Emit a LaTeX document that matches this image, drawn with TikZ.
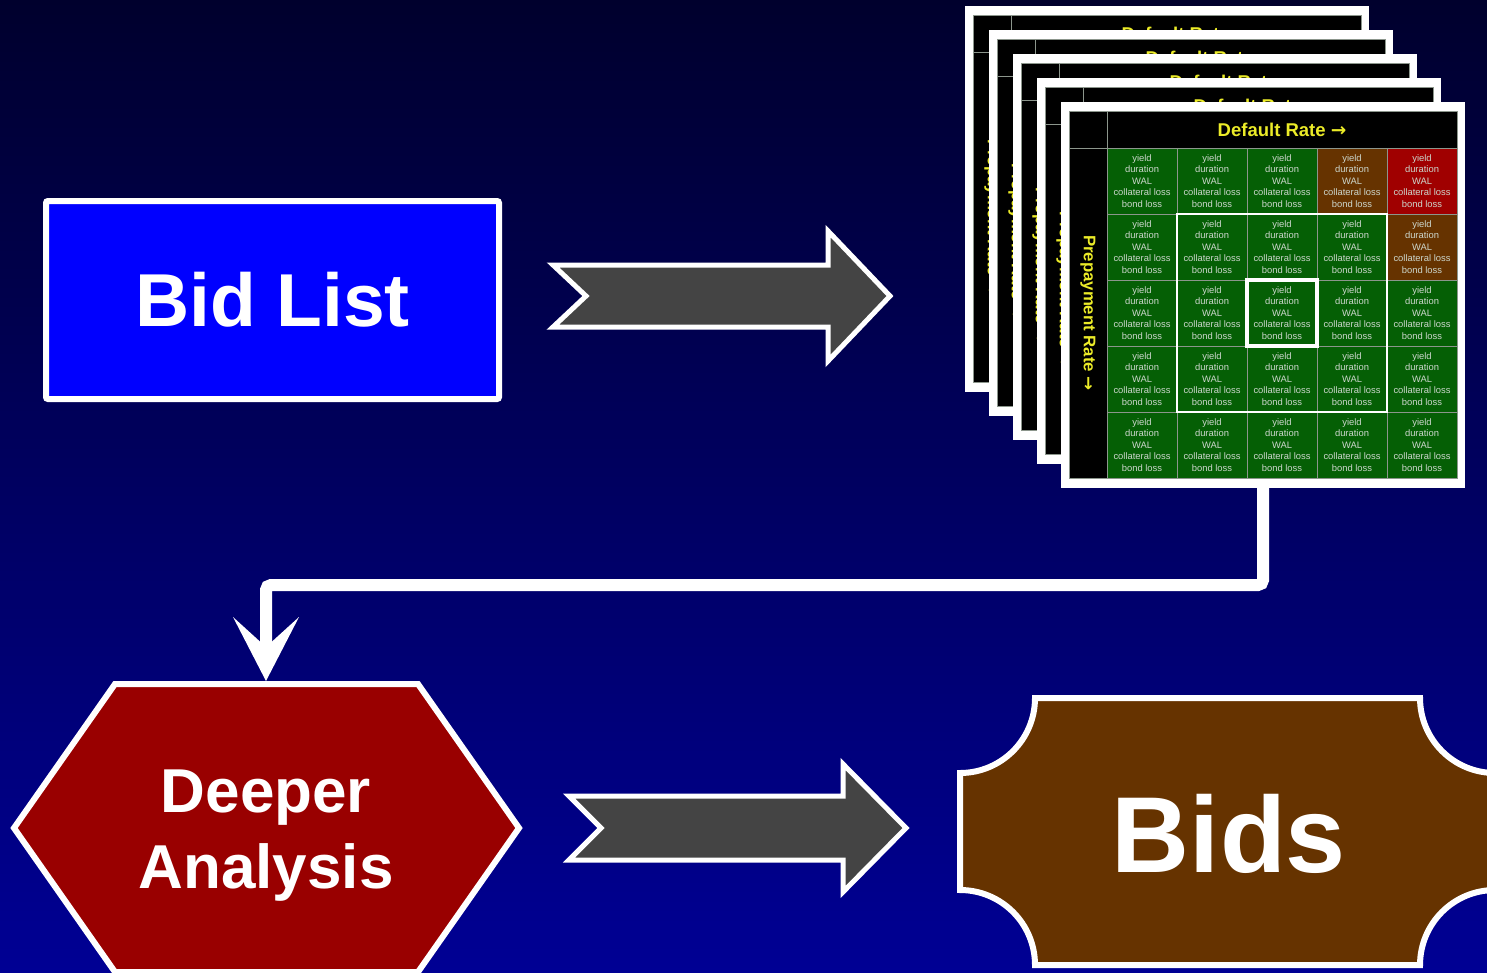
\documentclass[tikz,border=0pt]{standalone}
\usepackage{fontspec}
\setmainfont{Liberation Sans}
\newfontfamily\arrowfont{DejaVu Sans}
\usetikzlibrary{arrows.meta}

\definecolor{bgtop}{RGB}{0,0,45}
\definecolor{bgmid}{RGB}{0,0,100}
\definecolor{bgbot}{RGB}{0,0,148}
\definecolor{bidblue}{RGB}{0,0,255}
\definecolor{deepred}{RGB}{153,0,0}
\definecolor{bidbrown}{RGB}{102,51,0}
\definecolor{arrowgray}{RGB}{68,68,68}
\definecolor{gc}{RGB}{5,95,5}
\definecolor{bc}{RGB}{102,51,0}
\definecolor{rc}{RGB}{160,0,0}
\definecolor{gridgray}{RGB}{140,150,140}
\definecolor{celltext}{RGB}{205,215,205}
\definecolor{ylw}{RGB}{235,235,40}

\tikzset{
  pageframe/.style={fill=white, minimum width=404pt, minimum height=386pt, inner sep=0pt, outer sep=0pt},
  blackcell/.style={fill=black, draw=gridgray, line width=0.8pt, inner sep=0pt, outer sep=0pt},
  cell/.style={draw=gridgray, line width=0.8pt, minimum width=70pt, minimum height=66pt,
    inner sep=0pt, outer sep=0pt, text=celltext, align=center,
    font=\fontsize{9.4}{11.6}\selectfont},
  axislabel/.style={text=ylw, inner sep=0pt, font=\bfseries\fontsize{18.5}{20}\selectfont},
  sidelabel/.style={text=ylw, inner sep=0pt, rotate=-90, font=\bfseries\fontsize{16.8}{18}\selectfont},
  blockarrow/.style={draw=white, fill=arrowgray, line width=5pt, line join=miter},
  conn/.style={draw=white, line width=12pt, rounded corners=5pt,
    -{Stealth[length=64pt, width=66pt, inset=30pt, line width=0pt]}},
  bigtext/.style={text=white, inner sep=0pt, align=center},
}

\newcommand{\celltxt}{yield\\duration\\WAL\\collateral loss\\bond loss}
\newcommand{\rarr}{{\arrowfont\bfseries →}}

\begin{document}
\begin{tikzpicture}[x=1pt, y=-1pt]
  % backdrop
  \shade[top color=bgtop, middle color=bgmid, bottom color=bgbot] (0,0) rectangle (1487,972);
  \useasboundingbox (0,0) rectangle (1487,972);

  % bid list box
  \node[draw=white, fill=bidblue, line width=6pt, rounded corners=2pt,
        minimum width=453pt, minimum height=198pt, inner sep=0pt,
        bigtext, font=\bfseries\fontsize{75}{90}\selectfont] (bidlist) at (272.5,300) {Bid List};

  % first block arrow
  \draw[blockarrow] (553,265) -- (828,265) -- (828,231) -- (890,296) -- (828,361)
        -- (828,327) -- (553,327) -- (586,296) -- cycle;

  % stack of scenario tables; only the front one shows its grid
  \foreach \k in {0,...,4} {
    \begin{scope}[shift={({965+24*\k},{6+24*\k})}]
      \node[pageframe] (page\k) at (202,193) {};
      \node[fill=black, minimum width=388pt, minimum height=367pt, inner sep=0pt] (tab\k) at (202,192.5) {};
      \node[blackcell, minimum width=38pt, minimum height=37pt] (corner\k) at (27,27.5) {};
      \node[blackcell, minimum width=350pt, minimum height=37pt] (head\k) at (221,27.5) {};
      \node[axislabel] (headtxt\k) at (head\k.center) {Default Rate \rarr};
      \node[blackcell, minimum width=38pt, minimum height=330pt] (side\k) at (27,211) {};
      \node[sidelabel] (sidetxt\k) at (side\k.center) {Prepayment Rate \rarr};
    \end{scope}
  }
  \begin{scope}[shift={(1061,102)}]
    \foreach \row [count=\r] in {{gc,gc,gc,bc,rc},{gc,gc,gc,gc,bc},{gc,gc,gc,gc,gc},{gc,gc,gc,gc,gc},{gc,gc,gc,gc,gc}} {
      \foreach \col [count=\c] in \row {
        \node[cell, fill=\col] (c-\r-\c) at ({11+70*\c},{13+66*\r}) {\celltxt};
      }
    }
    % highlighted neighbourhood and centre scenario
    \draw[white, line width=2.5pt] (c-2-2.north west) rectangle (c-4-4.south east);
    \draw[white, line width=4.5pt] (c-3-3.north west) rectangle (c-3-3.south east);
  \end{scope}

  % deeper analysis hexagon
  \draw[draw=white, fill=deepred, line width=6pt, line join=miter]
    (14,828) -- (115,684) -- (418,684) -- (519,828) -- (418,972) -- (115,972) -- cycle;
  \node[bigtext, font=\bfseries\fontsize{62}{76}\selectfont] (deep) at (266,836) {Deeper\\Analysis};
  \coordinate (hextop) at (266,681);

  % connector from the tables down to the analysis step
  \draw[conn] (page4.south) -- ++(0,97) -| (hextop);

  % second block arrow
  \draw[blockarrow] (569,796) -- (843,796) -- (843,764) -- (906,828) -- (843,892)
        -- (843,860) -- (569,860) -- (601,828) -- cycle;

  % bids plaque
  \draw[draw=white, fill=bidbrown, line width=6pt]
    (1035,698) -- (1420,698) arc[start angle=180, end angle=270, radius=75pt]
    -- (1495,890) arc[start angle=90, end angle=180, radius=75pt]
    -- (1035,965) arc[start angle=0, end angle=90, radius=75pt]
    -- (960,773) arc[start angle=270, end angle=360, radius=75pt] -- cycle;
  \node[bigtext, font=\bfseries\fontsize{108}{120}\selectfont] (bids) at (1229,834) {Bids};
\end{tikzpicture}
\end{document}
